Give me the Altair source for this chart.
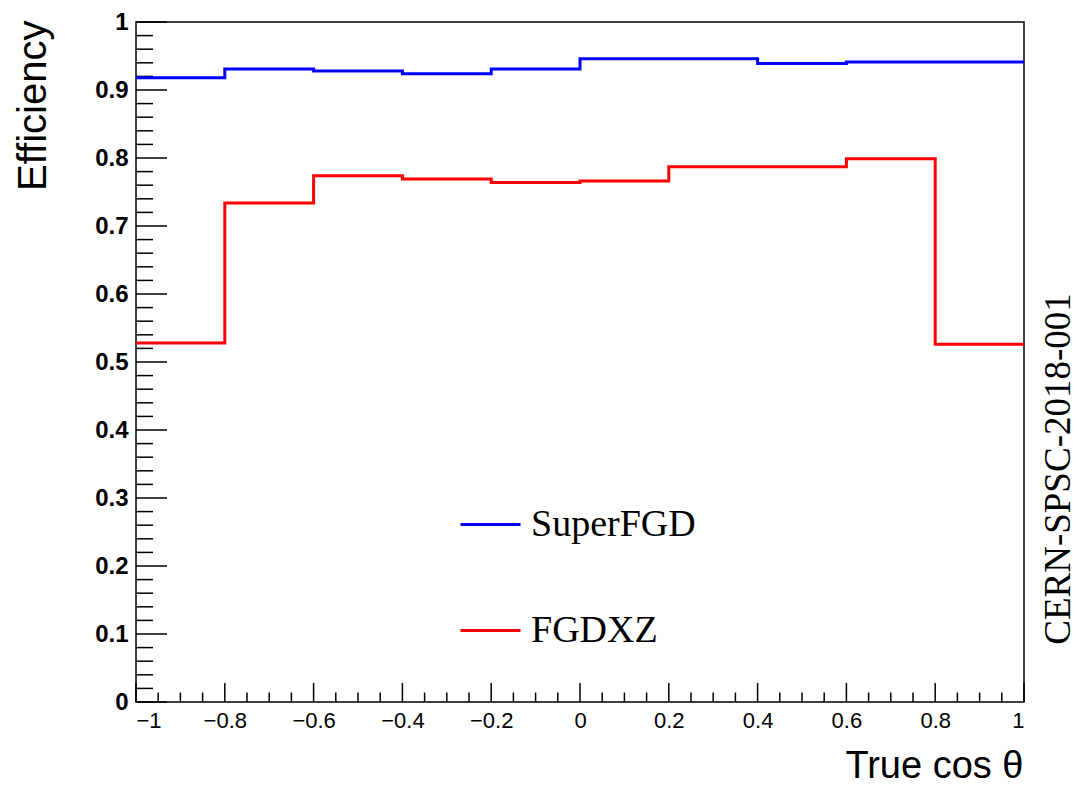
import altair as alt
import pandas as pd
import numpy as np

# ---- data ----
bin_edges = [-1.0, -0.8, -0.6, -0.4, -0.2, 0.0, 0.2, 0.4, 0.6, 0.8, 1.0]
superfgd_eff = [0.918, 0.931, 0.928, 0.924, 0.931, 0.946, 0.946, 0.939, 0.941, 0.941]
fgdxz_eff = [0.528, 0.734, 0.774, 0.769, 0.764, 0.766, 0.787, 0.787, 0.799, 0.526]
series_names = ["SuperFGD", "FGDXZ"]
series_colors = ["#0000ff", "#ff0000"]

x_major = [-1.0, -0.8, -0.6, -0.4, -0.2, 0.0, 0.2, 0.4, 0.6, 0.8, 1.0]
y_major = [0.0, 0.1, 0.2, 0.3, 0.4, 0.5, 0.6, 0.7, 0.8, 0.9, 1.0]
x_minor = [round(v, 2) for v in np.arange(-1.0, 1.0001, 0.05) if round(v, 2) not in x_major]
y_minor = [round(v, 2) for v in np.arange(0.0, 1.0001, 0.02) if round(v, 2) not in y_major]

x_title = "True cos θ"
y_title = "Efficiency"
side_note = "CERN-SPSC-2018-001"

# ---- tables ----
rows = []
for name, vals in zip(series_names, [superfgd_eff, fgdxz_eff]):
    for e, v in zip(bin_edges[:-1], vals):
        rows.append({"series": name, "cos": e, "eff": v})
    rows.append({"series": name, "cos": bin_edges[-1], "eff": vals[-1]})  # close last bin
df = pd.DataFrame(rows)

W, H = 888, 680
xscale = alt.Scale(domain=[-1, 1], nice=False, zero=False)
yscale = alt.Scale(domain=[0, 1], nice=False, zero=False)

x_axis = alt.Axis(
    values=x_major, format=".1~f", tickSize=0, domain=False, grid=False,
    labelFont="Liberation Sans", labelFontSize=22, labelPadding=8, labelColor="black",
    title=x_title, titleFont="Liberation Sans", titleFontSize=38, titleFontWeight="normal",
    titleColor="black", titleAlign="right", titleAnchor="end", titleX=W - 1, titleY=75,
    titleBaseline="alphabetic",
)
y_axis = alt.Axis(
    values=y_major, format=".1~f", tickSize=0, domain=False, grid=False,
    labelFont="Liberation Sans", labelFontSize=24, labelFontWeight="bold", labelPadding=8,
    labelColor="black",
    title=y_title, titleFont="Liberation Sans", titleFontSize=40, titleFontWeight="normal",
    titleColor="black", titleAngle=270, titleAlign="right", titleBaseline="alphabetic",
    titleX=-91, titleY=-2,
)

lines = alt.Chart(df).mark_line(interpolate="step-after", strokeWidth=3).encode(
    x=alt.X("cos:Q", scale=xscale, axis=x_axis),
    y=alt.Y("eff:Q", scale=yscale, axis=y_axis),
    color=alt.Color(
        "series:N",
        scale=alt.Scale(domain=series_names, range=series_colors),
        legend=alt.Legend(
            orient="none", legendX=323, legendY=471, title=None, direction="vertical",
            symbolType="stroke", symbolSize=3600, symbolStrokeWidth=3,
            labelFont="Liberation Serif", labelFontSize=38, labelColor="black",
            labelOffset=9, rowPadding=55, labelLimit=400,
        ),
    ),
    detail="series:N",
)

def yticks(vals, length):
    return alt.Chart(pd.DataFrame({"eff": vals})).mark_rule(color="black", strokeWidth=1.5).encode(
        y=alt.Y("eff:Q", scale=yscale, axis=y_axis),
        x=alt.value(0), x2=alt.value(length),
    )

def xticks(vals, length):
    return alt.Chart(pd.DataFrame({"cos": vals})).mark_rule(color="black", strokeWidth=1.5).encode(
        x=alt.X("cos:Q", scale=xscale, axis=x_axis),
        y=alt.value(H), y2=alt.value(H - length),
    )

note = alt.Chart(pd.DataFrame({"t": [side_note]})).mark_text(
    angle=270, align="center", baseline="alphabetic",
    font="Liberation Serif", fontSize=37, color="black",
).encode(text="t:N", x=alt.value(W + 46), y=alt.value(447))

chart = alt.layer(
    yticks(y_minor, 17), yticks(y_major, 31),
    xticks(x_minor, 9.5), xticks(x_major, 19),
    lines, note,
).properties(
    width=W, height=H,
    autosize=alt.AutoSizeParams(type="none"),
    padding={"left": 136, "top": 22, "right": 53, "bottom": 85},
    background="white",
).configure_view(stroke="black", strokeWidth=1.5)

chart.save("out.html", embed_options={"renderer": "svg", "actions": False})
